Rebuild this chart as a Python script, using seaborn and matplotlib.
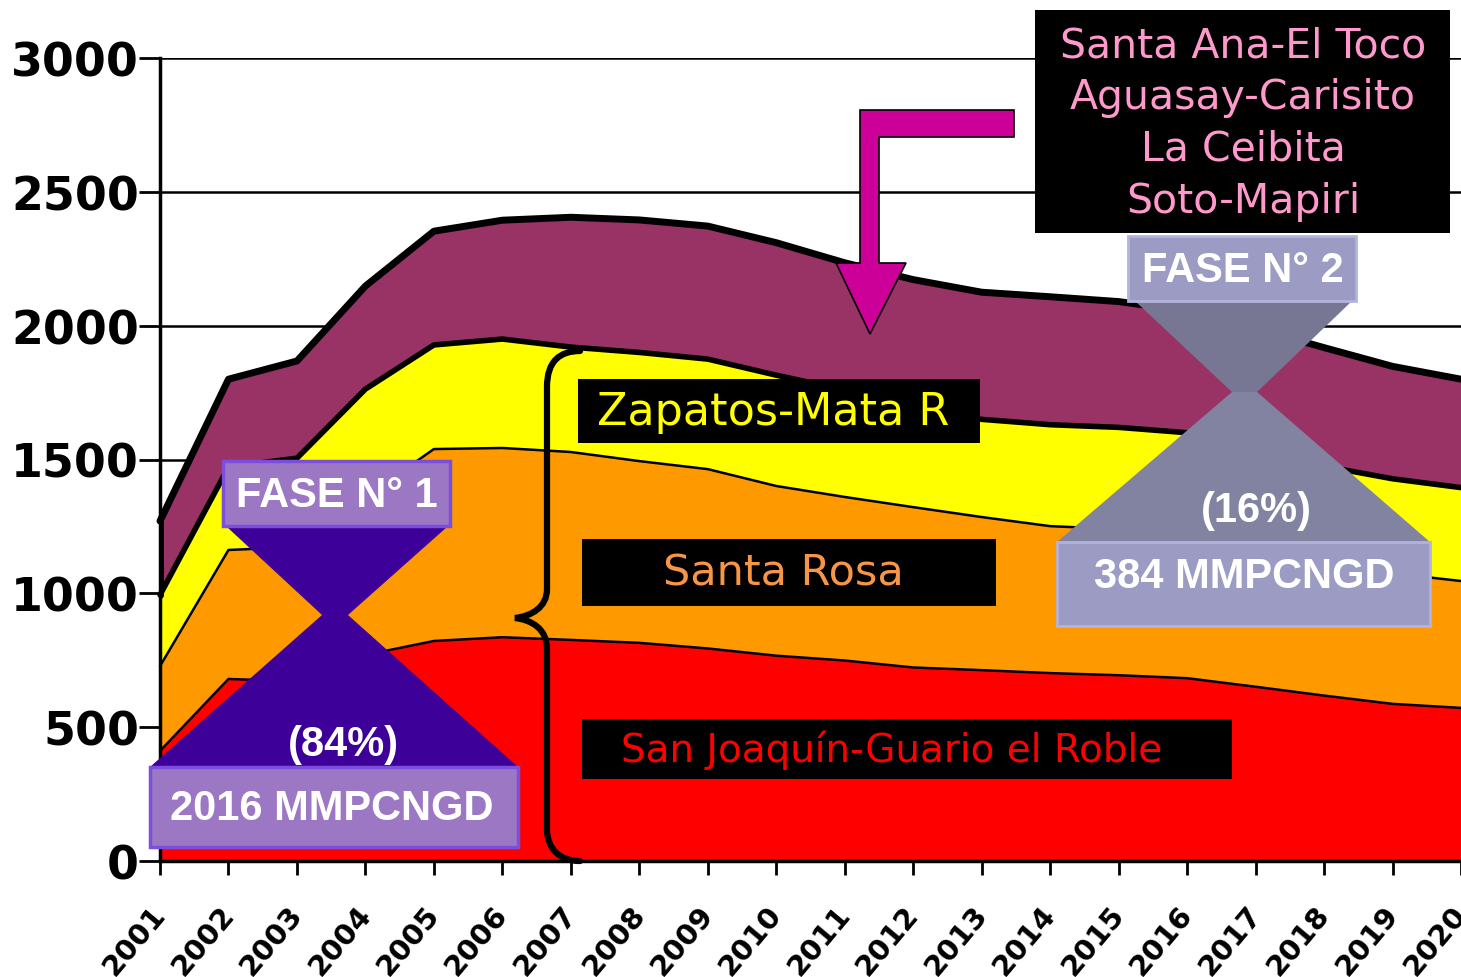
import numpy as np
import pandas as pd
import matplotlib
matplotlib.use("Agg")
import matplotlib.pyplot as plt
import matplotlib.transforms as mtransforms
from matplotlib.patches import Rectangle, Polygon, PathPatch
from matplotlib.path import Path
import seaborn as sns

# Data (MMPCNGD per field group, stacked bottom -> top)
years = list(range(2001, 2021))
san_joaquin = [411, 680, 672, 770, 822, 836, 826, 815, 794, 767, 749, 723, 713, 702, 694, 683, 651, 618, 587, 572]
santa_rosa = [317, 482, 501, 590, 717, 707, 702, 679, 670, 634, 611, 599, 572, 549, 546, 532, 509, 497, 488, 474]
zapatos = [266, 310, 332, 403, 389, 407, 392, 406, 411, 414, 400, 373, 365, 379, 380, 385, 380, 360, 353, 349]
santa_ana = [276, 328, 363, 385, 425, 444, 485, 495, 497, 495, 475, 477, 475, 478, 470, 455, 450, 443, 420, 405]

layer_names = ["San Joaquín-Guario el Roble", "Santa Rosa", "Zapatos-Mata R", "Santa Ana"]
layer_colors = ["#FF0000", "#FF9900", "#FFFF00", "#993366"]
edge_widths = [1.8, 1.8, 4.0, 5.0]
y_ticks = [0, 500, 1000, 1500, 2000, 2500, 3000]

sns.set_theme(style="white")
plt.rcParams["font.family"] = ["DejaVu Sans"]

W, H = 1461, 978
fig = plt.figure(figsize=(W / 100, H / 100), dpi=100)
ax = fig.add_axes([160 / W, 116 / H, 1301 / W, 803 / H])

layers = [san_joaquin, santa_rosa, zapatos, santa_ana]
ax.stackplot(years, *layers, colors=layer_colors, linewidth=0, zorder=2)

cum = np.cumsum(layers, axis=0)
df = pd.DataFrame({
    "year": np.tile(years, len(layers)),
    "value": cum.ravel(),
    "layer": np.repeat(layer_names, len(years)),
})
for name, lw in zip(layer_names, edge_widths):
    sns.lineplot(data=df[df["layer"] == name], x="year", y="value", color="black",
                 linewidth=lw, ax=ax, zorder=3, clip_on=False)
ax.plot([years[0], years[0]], [cum[2][0], cum[3][0]], color="black", lw=5, zorder=3)

# axes styling
ax.set_xlim(years[0], years[-1])
ax.set_ylim(0, 3000)
ax.set_xlabel("")
ax.set_ylabel("")
ax.set_yticks(y_ticks)
ax.yaxis.grid(True, color="black", lw=1.8)
ax.xaxis.grid(False)
ax.set_axisbelow(True)
for s in ["top", "right"]:
    ax.spines[s].set_visible(False)
for s in ["left", "bottom"]:
    ax.spines[s].set_color("black")
    ax.spines[s].set_linewidth(2.5)
    ax.spines[s].set_zorder(4)
ax.tick_params(axis="y", left=True, length=15, width=2, color="black", labelcolor="black",
               pad=0, labelsize=33)
ax.tick_params(axis="x", bottom=True, length=10, width=2, color="black", labelcolor="black",
               pad=18, labelsize=21)
ax.set_xticks(years)
ax.set_xticklabels([str(y) for y in years], rotation=50, ha="right", va="top",
                   rotation_mode="anchor", fontweight="bold")
shift = mtransforms.ScaledTranslation(-10 / 100, 0, fig.dpi_scale_trans)
for lab in ax.get_xticklabels():
    lab.set_transform(lab.get_transform() + shift)
for lab in ax.get_yticklabels():
    lab.set_fontweight("bold")

# pixel-based transform for the annotations (origin top-left)
px = mtransforms.Affine2D().scale(1 / W, -1 / H).translate(0, 1) + fig.transFigure


def box(x0, y0, x1, y1, fc, ec="none", lw=0, z=6):
    ax.add_patch(Rectangle((x0, y1), x1 - x0, y0 - y1, transform=px, facecolor=fc, edgecolor=ec,
                           linewidth=lw, clip_on=False, zorder=z))


def poly(pts, fc, ec="none", lw=0, z=5):
    ax.add_patch(Polygon(pts, closed=True, transform=px, facecolor=fc, edgecolor=ec, linewidth=lw,
                         clip_on=False, zorder=z))


def label(x, y, s, color, size, weight="normal", family="DejaVu Sans", z=7, **kw):
    ax.text(x, y, s, transform=px, ha="center", va="center", color=color, fontsize=size,
            fontweight=weight, family=family, zorder=z, **kw)


# Field labels
box(578, 380, 980, 444, "black")
label(773, 412, "Zapatos-Mata R", "#FFFF00", 32)
box(582, 540, 996, 607, "black")
label(783, 573, "Santa Rosa", "#F79646", 31)
box(582, 720, 1232, 780, "black")
label(892, 750, "San Joaquín-Guario el Roble", "#FF0000", 28)
box(1035, 11, 1450, 234, "black")
label(1243, 124, "Santa Ana-El Toco\nAguasay-Carisito\nLa Ceibita\nSoto-Mapiri", "#FF99CC", 29.5,
      linespacing=1.38)

# magenta elbow arrow
poly([(1014, 111), (860, 111), (860, 264), (836, 264), (870, 335), (906, 264), (879, 264),
      (879, 138), (1014, 138)], "#CC0099", ec="black", lw=1.2)

# curly brace
brace = Path(
    [(580, 352), (560, 352), (547, 362), (547, 388),
     (547, 590),
     (547, 608), (532, 617), (515, 619),
     (532, 621), (547, 630), (547, 650),
     (547, 830),
     (547, 850), (560, 862), (580, 862)],
    [Path.MOVETO, Path.CURVE4, Path.CURVE4, Path.CURVE4,
     Path.LINETO,
     Path.CURVE4, Path.CURVE4, Path.CURVE4,
     Path.CURVE4, Path.CURVE4, Path.CURVE4,
     Path.LINETO,
     Path.CURVE4, Path.CURVE4, Path.CURVE4])
ax.add_patch(PathPatch(brace, transform=px, facecolor="none", edgecolor="black", lw=4.5,
                       clip_on=False, zorder=5, capstyle="round"))

# FASE N° 1 hourglass
poly([(227, 528), (447, 528), (348, 616), (322, 616)], "#3D0099")
poly([(322, 616), (348, 616), (518, 768), (150, 768)], "#3D0099")
box(223, 462, 450, 527, "#9C78C4", ec="#7B4FDB", lw=2.5)
box(150, 768, 518, 848, "#9C78C4", ec="#7B4FDB", lw=2.5)
label(337, 496, "FASE N° 1", "white", 30, weight="bold", family="Liberation Sans")
label(343, 745, "(84%)", "white", 30, weight="bold", family="Liberation Sans")
label(332, 809, "2016 MMPCNGD", "white", 30, weight="bold", family="Liberation Sans")

# FASE N° 2 hourglass
poly([(1135, 302), (1352, 302), (1257, 393), (1232, 393)], "#777794")
poly([(1232, 393), (1257, 393), (1430, 543), (1057, 543)], "#8282A1")
box(1128, 237, 1356, 302, "#9B9BC3", ec="#B3B3DD", lw=2)
box(1057, 543, 1430, 627, "#9B9BC3", ec="#B3B3DD", lw=2)
label(1243, 271, "FASE N° 2", "white", 30, weight="bold", family="Liberation Sans")
label(1256, 511, "(16%)", "white", 30, weight="bold", family="Liberation Sans")
label(1244, 577, "384 MMPCNGD", "white", 30, weight="bold", family="Liberation Sans")

fig.savefig("out.png", dpi=100, facecolor="white")
